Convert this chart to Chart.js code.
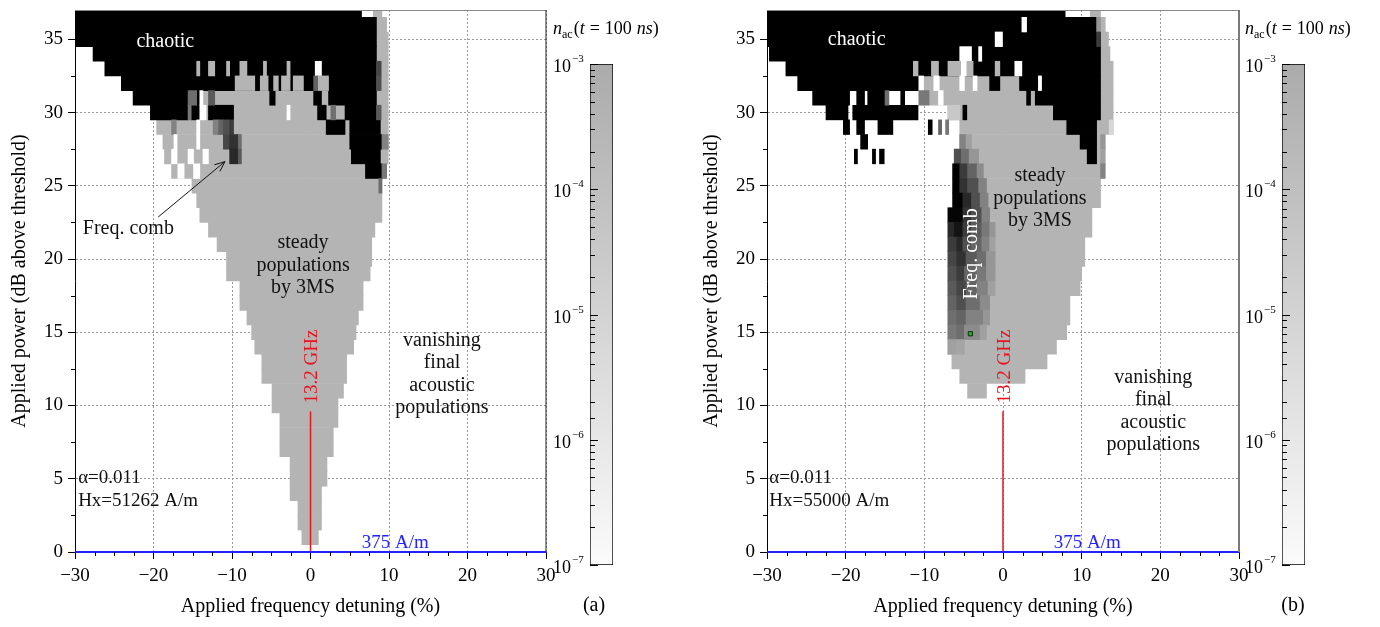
<!DOCTYPE html>
<html>
<head>
<meta charset="utf-8">
<title>Acoustic population maps</title>
<script src="https://cdn.jsdelivr.net/npm/chart.js@4.4.1/dist/chart.umd.min.js"></script>
<style>
  html, body { margin: 0; padding: 0; background: #fff; }
  #wrap { position: relative; width: 1380px; height: 627px; overflow: hidden; }
  .box { position: absolute; top: 0; height: 627px; }
  .box canvas { display: block; }
</style>
</head>
<body>
<div id="wrap">
  <div class="box" style="left:0;width:560px"><canvas id="mapA" width="560" height="627"></canvas></div>
  <div class="box" style="left:548px;width:140px"><canvas id="barA" width="140" height="627"></canvas></div>
  <div class="box" style="left:692px;width:560px"><canvas id="mapB" width="560" height="627"></canvas></div>
  <div class="box" style="left:1240px;width:140px"><canvas id="barB" width="140" height="627"></canvas></div>
</div>
<script>
// ---- data (rows are dB above threshold, segments are detuning % ranges) ----
const detuningRange = [-30, 30];
const powerRange = [0, 37];
const thresholdLevel = 0;
const carrierLine = { detuning: 0, top: 9.6 };
const colorbarRange = [1e-7, 1e-3];

// (a) Hx = 51262 A/m : [row, from, to]
const aSteady = [
  [1, -1.1, 1.0], [2, -1.6, 1.4], [3, -1.6, 1.4], [4, -2.6, 1.4], [5, -2.6, 2.1],
  [6, -2.6, 2.1], [7, -3.9, 2.9], [8, -3.9, 2.9], [9, -3.9, 3.5], [10, -4.9, 3.5],
  [11, -4.9, 4.2], [12, -6.2, 4.6], [13, -6.2, 4.6], [14, -7.1, 5.5], [15, -7.5, 5.8],
  [16, -8.1, 6.1], [17, -9.0, 6.7], [18, -9.0, 6.7], [19, -10.7, 7.6], [20, -10.7, 7.8],
  [21, -11.9, 7.8], [22, -13.0, 8.2], [23, -14.1, 9.1], [24, -14.5, 9.1], [25, -15.1, 9.1],
  [26, -17.7, 9.7], [27, -18.6, 9.9], [28, -18.8, 9.9], [29, -19.6, 9.9], [30, -15.6, 9.9],
  [31, -15.6, 9.9], [32, -15.6, 9.9], [33, -15.6, 9.9], [34, -15.6, 9.9], [35, -15.6, 9.9],
  [36, -15.6, 9.7], [37, 8.0, 9.1]
];
const aChaotic = [
  [37, -30, 6.5], [36, -30, 8.4], [35, -30, 8.4], [34, -27.7, 8.4], [33, -26.2, 8.4],
  [32, -24.1, 8.4],
  [31, -22.6, -15.6], [31, -14.5, -14.1], [31, -5.2, -4.5], [31, 0.4, 1.4], [31, 2.3, 8.4],
  [30, -20.4, -15.6], [30, -15.2, -14.1], [30, -13.0, -9.8], [30, 0.9, 2.0], [30, 4.4, 8.4],
  [29, 2.0, 4.4], [29, 5.0, 8.9],
  [28, 5.0, 9.1], [27, 5.2, 8.9], [26, 7.0, 9.1]
];
// [row, from, to, grey level]  (255 = empty, 180 = steady, darker = comb)
const aCells = [
  [33, -14.5, -14.1, 180], [33, -13.0, -12.2, 180], [33, -10.7, -10.3, 180], [33, -9.0, -8.1, 180],
  [33, -6.0, -5.6, 180], [33, -3.0, -2.6, 180], [33, 0.6, 1.4, 255], [33, 8.4, 9.0, 70],
  [32, -9.6, -7.1, 180], [32, -6.4, -5.4, 180], [32, -4.7, -4.1, 180], [32, -3.7, -2.6, 180],
  [32, -2.2, -0.9, 180], [32, 0.4, 1.0, 100], [32, 1.0, 2.3, 180], [32, 8.4, 9.0, 80],
  [31, -15.6, -14.5, 110], [31, -14.1, -13.7, 255], [31, -13.0, -12.2, 90],
  [30, -15.6, -15.2, 120], [30, -14.1, -13.3, 255], [30, -3.0, -2.6, 255], [30, 2.6, 3.2, 110], [30, 8.4, 9.0, 90],
  [29, -17.7, -17.1, 130], [29, -14.5, -14.1, 255],
  [29, -12.4, -11.7, 130], [29, -11.7, -11.1, 100], [29, -11.1, -10.3, 80], [29, -10.3, -9.8, 60],
  [28, -17.4, -17.0, 255], [28, -14.5, -14.1, 255],
  [28, -11.1, -10.3, 70], [28, -10.3, -9.2, 50], [28, -9.2, -8.8, 110], [28, 9.1, 9.9, 130],
  [27, -17.7, -17.0, 255], [27, -15.6, -14.9, 255], [27, -13.7, -13.0, 255],
  [27, -10.3, -9.2, 40], [27, -9.2, -8.8, 90],
  [26, -16.9, -16.1, 255], [26, -14.9, -14.1, 255], [26, 9.1, 9.7, 120],
  [25, 8.7, 9.1, 110]
];

// (b) Hx = 55000 A/m
const bSteady = [
  [11, -4.5, -2.1], [12, -5.5, 2.8], [13, -6.5, 5.6], [14, -7.0, 6.8], [15, -7.0, 8.1],
  [16, -7.0, 8.5], [17, -7.0, 8.5], [18, -7.0, 9.8], [19, -7.0, 10.0], [20, -7.0, 10.4],
  [21, -7.0, 10.4], [22, -7.0, 11.3], [23, -7.0, 11.3], [24, -6.4, 12.4], [25, -6.4, 12.4],
  [26, -6.4, 12.4], [27, -6.2, 12.4], [28, -5.5, 12.4], [29, -5.5, 14.0], [30, -7.0, 14.0],
  [31, -9.4, 14.0], [32, -10.1, 14.0], [33, -11.4, 14.0], [34, -6.0, 13.6], [35, -6.0, 13.4],
  [36, -6.0, 13.0], [37, 11.1, 12.4]
];
const bChaotic = [
  [37, -30, 7.9], [36, -30, 11.9], [35, -30, 12.4], [34, -29.7, 12.4], [33, -27.6, 12.4],
  [32, -26.1, -10.7], [32, -1.7, -0.4], [32, 2.1, 4.5], [32, 4.9, 12.4],
  [31, -24.2, -19.5], [31, -18.6, -17.6], [31, -17.2, -15.0], [31, -13.0, -12.5], [31, 3.0, 3.5], [31, 4.1, 12.4],
  [30, -22.5, -19.7], [30, -19.1, -10.8], [30, -5.1, -4.6], [30, 6.4, 12.4],
  [29, -20.3, -19.5], [29, -18.6, -17.6], [29, -15.9, -14.0], [29, -9.5, -9.0], [29, 8.1, 11.9],
  [28, -18.1, -17.2], [28, 9.8, 11.9],
  [27, -18.9, -18.5], [27, -16.6, -16.2], [27, -15.7, -15.1], [27, 10.7, 11.9]
];
const bCells = [
  [36, 2.4, 3.0, 255], [36, 11.9, 12.4, 150],
  [35, -1.0, 0.0, 255], [35, 11.9, 12.4, 60],
  [34, -5.5, -4.0, 255], [34, -3.1, -2.7, 255],
  [33, -11.4, -10.8, 180], [33, -9.1, -8.2, 180], [33, -7.0, -5.3, 180], [33, -5.3, -4.6, 255],
  [33, -4.6, -3.8, 180], [33, -1.0, -0.4, 180], [33, 1.5, 2.4, 255],
  [32, -10.7, -10.1, 255], [32, -8.8, -8.1, 255], [32, -5.5, -4.9, 255], [32, -3.8, -3.3, 255], [32, 4.5, 4.9, 255],
  [31, -15.0, -14.5, 110], [31, -10.7, -9.4, 120], [31, -8.2, -7.6, 255],
  [30, -7.0, -5.5, 200],
  [29, -8.2, -7.8, 100], [29, -7.3, -6.9, 120], [29, 13.5, 14.0, 215],
  [28, 12.4, 13.0, 150], [27, 12.4, 13.0, 160], [26, 12.4, 13.0, 130],
  // frequency comb
  [28, -5.5, -4.7, 130], [28, -4.7, -4.0, 160],
  [27, -6.2, -5.3, 80], [27, -5.3, -4.3, 110], [27, -4.3, -3.1, 150],
  [26, -6.4, -5.5, 0], [26, -5.5, -4.5, 60], [26, -4.5, -3.3, 100], [26, -3.3, -2.5, 140],
  [25, -6.4, -5.5, 0], [25, -5.5, -4.5, 50], [25, -4.5, -3.1, 80], [25, -3.1, -2.1, 130],
  [24, -6.4, -5.1, 0], [24, -5.1, -4.0, 40], [24, -4.0, -2.9, 80], [24, -2.9, -1.9, 130],
  [23, -7.0, -5.1, 5], [23, -5.1, -4.0, 50], [23, -4.0, -2.7, 80], [23, -2.7, -1.7, 130],
  [22, -7.0, -6.2, 40], [22, -6.2, -5.1, 20], [22, -5.1, -4.0, 60], [22, -4.0, -2.7, 90], [22, -2.7, -1.7, 120], [22, -1.7, -1.0, 150],
  [21, -7.0, -5.9, 60], [21, -5.9, -5.1, 40], [21, -5.1, -4.0, 80], [21, -4.0, -2.7, 100], [21, -2.7, -1.7, 130], [21, -1.7, -1.0, 160],
  [20, -7.0, -5.9, 70], [20, -5.9, -4.7, 50], [20, -4.7, -3.3, 90], [20, -3.3, -2.1, 110], [20, -2.1, -1.0, 150],
  [19, -7.0, -5.9, 80], [19, -5.9, -4.9, 60], [19, -4.9, -3.3, 100], [19, -3.3, -2.1, 120], [19, -2.1, -1.0, 150],
  [18, -7.0, -5.9, 90], [18, -5.9, -4.7, 70], [18, -4.7, -3.3, 100], [18, -3.3, -1.9, 130], [18, -1.9, -1.0, 160],
  [17, -7.0, -5.9, 100], [17, -5.9, -4.7, 80], [17, -4.7, -2.9, 110], [17, -2.9, -1.7, 140],
  [16, -7.0, -5.9, 110], [16, -5.9, -4.7, 100], [16, -4.7, -2.5, 130], [16, -2.5, -1.7, 150],
  [15, -7.0, -5.9, 120], [15, -5.9, -4.9, 110], [15, -4.9, -2.9, 140], [15, -2.9, -2.1, 160],
  [14, -7.0, -5.9, 160], [14, -5.9, -4.9, 165]
];
const bMarker = { x: -4.15, y: 14.9 };

// ---- drawing ----
const FONT = '"Liberation Serif", "Times New Roman", serif';
const steadyGrey = 'rgb(180,180,180)';

let fmt = (v) => v < 0 ? '\u2212' + Math.abs(v) : String(v);

// keep ticks on the 2.5 grid only
let onGrid = (s) => { s.ticks = s.ticks.filter((t) => Math.abs(t.value / 2.5 - Math.round(t.value / 2.5)) < 1e-6); };

let heat = (rows, color, order) => {
    return {
        type: 'bar',
        indexAxis: 'y',
        order: order,
        grouped: false,
        categoryPercentage: 1,
        barPercentage: 1,
        borderWidth: 0,
        data: rows.map(([y, l, r, g]) => ({y: y, x: [l, r], g: g})),
        backgroundColor: color,
    };
};

let cellColor = (ctx) => {
    let g = ctx.raw ? ctx.raw.g : 180;
    return `rgb(${g},${g},${g})`;
};

// text labels, arrow, short minor ticks and the top/right frame of a map
let notesPlugin = (n) => ({
    id: 'notes',
    afterDraw(chart) {
        const {ctx, chartArea: a, scales: {x, y}} = chart;
        ctx.save();
        ctx.strokeStyle = '#8a8a8a';
        ctx.lineWidth = 1;
        ctx.beginPath();
        ctx.moveTo(a.left, a.top + 0.5);
        ctx.lineTo(a.right, a.top + 0.5);
        ctx.stroke();
        ctx.strokeStyle = n.frameColor;
        ctx.lineWidth = n.frameWidth;
        ctx.beginPath();
        ctx.moveTo(a.right, a.top);
        ctx.lineTo(a.right, a.bottom);
        ctx.stroke();

        // minor ticks (major ones come from the scales)
        ctx.strokeStyle = '#000';
        ctx.lineWidth = 1;
        ctx.beginPath();
        x.ticks.filter((t) => t.value % 10 !== 0).forEach((t) => {
            const px = Math.round(x.getPixelForValue(t.value)) + 0.5;
            ctx.moveTo(px, a.bottom);
            ctx.lineTo(px, a.bottom + 4);
        });
        y.ticks.filter((t) => t.value % 5 !== 0).forEach((t) => {
            const py = Math.round(y.getPixelForValue(t.value)) + 0.5;
            ctx.moveTo(a.left, py);
            ctx.lineTo(a.left - 4, py);
        });
        ctx.stroke();

        n.texts.forEach((t) => {
            ctx.font = `${t.size || 20}px ${FONT}`;
            ctx.fillStyle = t.color || '#111';
            ctx.textAlign = t.align || 'center';
            ctx.textBaseline = 'middle';
            ctx.save();
            ctx.translate(x.getPixelForValue(t.x), y.getPixelForValue(t.y));
            if (t.rotate) ctx.rotate(-Math.PI / 2);
            t.text.forEach((line, i) => ctx.fillText(line, 0, i * 22.5));
            ctx.restore();
        });

        if (n.arrow) {
            const x1 = x.getPixelForValue(n.arrow.from[0]), y1 = y.getPixelForValue(n.arrow.from[1]);
            const x2 = x.getPixelForValue(n.arrow.to[0]), y2 = y.getPixelForValue(n.arrow.to[1]);
            const ang = Math.atan2(y2 - y1, x2 - x1);
            ctx.strokeStyle = '#111';
            ctx.lineWidth = 1;
            ctx.beginPath();
            ctx.moveTo(x1, y1);
            ctx.lineTo(x2, y2);
            ctx.moveTo(x2 - 11 * Math.cos(ang - 0.4), y2 - 11 * Math.sin(ang - 0.4));
            ctx.lineTo(x2, y2);
            ctx.lineTo(x2 - 11 * Math.cos(ang + 0.4), y2 - 11 * Math.sin(ang + 0.4));
            ctx.stroke();
        }
        ctx.restore();
    }
});

let drawMap = (id, steady, chaotic, cells, marker, notes) => {
    let datasets = [
        {
            type: 'line',
            data: [{x: detuningRange[0], y: thresholdLevel}, {x: detuningRange[1], y: thresholdLevel}],
            borderColor: '#2323ff',
            borderWidth: 2,
            pointRadius: 0,
            clip: false,
            order: 0,
        },
        {
            type: 'line',
            data: [{x: carrierLine.detuning, y: thresholdLevel}, {x: carrierLine.detuning, y: carrierLine.top}],
            borderColor: '#e31a1c',
            borderWidth: 1.5,
            pointRadius: 0,
            order: 0,
        },
        heat(cells, cellColor, 1),
        heat(chaotic, '#000', 2),
        heat(steady, steadyGrey, 3),
    ];
    if (marker) {
        datasets.push({
            type: 'scatter',
            data: [marker],
            pointStyle: 'rect',
            pointRadius: 3,
            backgroundColor: '#2aa52a',
            borderColor: '#0c360c',
            borderWidth: 1,
            order: 0,
        });
    }
    return new Chart(document.getElementById(id), {
        type: 'scatter',
        data: {datasets: datasets},
        options: {
            responsive: false,
            animation: false,
            events: [],
            layout: {padding: {left: 0, right: notes.padRight, top: 10, bottom: 0}},
            plugins: {legend: {display: false}, tooltip: {enabled: false}},
            scales: {
                x: {
                    type: 'linear',
                    min: detuningRange[0],
                    max: detuningRange[1],
                    bounds: 'data',
                    offset: false,
                    z: 1,
                    afterBuildTicks: onGrid,
                    ticks: {
                        stepSize: 2.5,
                        autoSkip: false,
                        includeBounds: false,
                        maxRotation: 0,
                        padding: 6,
                        color: '#000',
                        font: {family: FONT, size: 19},
                        callback: (v) => (v % 10 === 0 ? fmt(v) : ''),
                    },
                    grid: {
                        offset: false,
                        color: (c) => (c.tick && c.tick.value % 10 === 0 ? '#9a9a9a' : 'rgba(0,0,0,0)'),
                        tickColor: (c) => (c.tick && c.tick.value % 10 === 0 ? '#000' : 'rgba(0,0,0,0)'),
                        tickLength: 7,
                    },
                    border: {display: true, color: '#2323ff', width: 1, dash: [2, 2]},
                    title: {
                        display: true,
                        text: 'Applied frequency detuning (%)',
                        color: '#000',
                        font: {family: FONT, size: 20},
                        padding: {top: 0, bottom: 8},
                    },
                    afterFit: (s) => { s.height = 75; s.paddingLeft = 0; s.paddingRight = 0; },
                },
                y: {
                    type: 'linear',
                    min: powerRange[0],
                    max: powerRange[1],
                    bounds: 'data',
                    offset: false,
                    z: 1,
                    afterBuildTicks: onGrid,
                    ticks: {
                        stepSize: 2.5,
                        autoSkip: false,
                        includeBounds: false,
                        padding: 5,
                        color: '#000',
                        font: {family: FONT, size: 19},
                        callback: (v) => (v % 5 === 0 ? fmt(v) : ''),
                    },
                    grid: {
                        offset: false,
                        color: (c) => (c.tick && c.tick.value % 5 === 0 && c.tick.value > 0 ? '#9a9a9a' : 'rgba(0,0,0,0)'),
                        tickColor: (c) => (c.tick && c.tick.value % 5 === 0 ? '#000' : 'rgba(0,0,0,0)'),
                        tickLength: 7,
                    },
                    border: {display: true, color: '#000', width: 1, dash: [2, 2]},
                    title: {
                        display: true,
                        text: 'Applied power (dB above threshold)',
                        color: '#000',
                        font: {family: FONT, size: 20},
                        padding: {top: 8, bottom: 0},
                    },
                    afterFit: (s) => { s.width = 75; s.paddingTop = 0; s.paddingBottom = 0; },
                },
            },
        },
        plugins: [notesPlugin(notes)],
    });
};

// colour bar: gradient bar, inner ticks, 10^n labels, title and panel tag
let colorbarDecor = (tag, tagX) => ({
    id: 'cbDecor',
    afterDraw(chart) {
        const {ctx, chartArea: a, scales: {y}} = chart;
        ctx.save();
        ctx.strokeStyle = '#000';
        ctx.fillStyle = '#000';
        ctx.lineWidth = 1;
        y.ticks.forEach((t) => {
            const py = Math.round(y.getPixelForValue(t.value)) + 0.5;
            const lg = Math.log10(t.value);
            const major = Math.abs(lg - Math.round(lg)) < 1e-6;
            ctx.beginPath();
            ctx.moveTo(a.left, py);
            ctx.lineTo(a.left + (major ? 8 : 5), py);
            ctx.stroke();
            if (major) {
                ctx.textAlign = 'left';
                ctx.textBaseline = 'middle';
                ctx.font = `18px ${FONT}`;
                ctx.fillText('10', 5, py + 3);
                const w = ctx.measureText('10').width;
                ctx.font = `11px ${FONT}`;
                ctx.fillText('\u2212' + Math.abs(Math.round(lg)), 5 + w + 1, py - 5);
            }
        });

        // n_ac(t = 100 ns)
        const parts = [
            ['n', 'italic 18px', 0, 0], ['ac', '12px', 4, 1], ['(', '18px', 0, 0], ['t', 'italic 18px', 0, 5],
            ['=', '18px', 0, 5], ['100', '18px', 0, 5], ['ns', 'italic 18px', 0, 0], [')', '18px', 0, 0]
        ];
        let px = 5;
        ctx.textAlign = 'left';
        ctx.textBaseline = 'alphabetic';
        parts.forEach(([s, f, dy, gap]) => {
            ctx.font = `${f} ${FONT}`;
            ctx.fillText(s, px, 34 + dy);
            px += ctx.measureText(s).width + gap;
        });

        ctx.font = `20px ${FONT}`;
        ctx.textAlign = 'center';
        ctx.textBaseline = 'middle';
        ctx.fillText(tag, tagX, 606);
        ctx.restore();
    }
});

let drawColorbar = (id, tag, tagX) => {
    return new Chart(document.getElementById(id), {
        type: 'bar',
        data: {
            labels: ['n'],
            datasets: [{
                data: [colorbarRange],
                backgroundColor: (ctx) => {
                    const area = ctx.chart.chartArea;
                    if (!area) return '#ccc';
                    const g = ctx.chart.ctx.createLinearGradient(0, area.bottom, 0, area.top);
                    g.addColorStop(0, '#fbfbfb');
                    g.addColorStop(1, '#ababab');
                    return g;
                },
                borderColor: '#000',
                borderWidth: 1,
                borderSkipped: false,
                categoryPercentage: 1,
                barPercentage: 1,
            }]
        },
        options: {
            responsive: false,
            animation: false,
            events: [],
            layout: {padding: {left: 42, right: 75, top: 64, bottom: 62}},
            plugins: {legend: {display: false}, tooltip: {enabled: false}},
            scales: {
                x: {display: false},
                y: {
                    type: 'logarithmic',
                    min: colorbarRange[0],
                    max: colorbarRange[1],
                    ticks: {display: false},
                    grid: {display: false, drawTicks: false},
                    border: {display: false},
                    afterFit: (s) => { s.width = 0; },
                }
            }
        },
        plugins: [colorbarDecor(tag, tagX)],
    });
};

drawMap('mapA', aSteady, aChaotic, aCells, null, {
    padRight: 14,
    frameColor: '#222',
    frameWidth: 1,
    texts: [
        {text: ['chaotic'], x: -18.5, y: 34.85, color: '#fff'},
        {text: ['Freq. comb'], x: -23.2, y: 22.1},
        {text: ['steady', 'populations', 'by 3MS'], x: -0.95, y: 21.1},
        {text: ['vanishing', 'final', 'acoustic', 'populations'], x: 16.75, y: 14.43},
        {text: ['13.2 GHz'], x: 0.2, y: 12.66, color: '#e8141c', rotate: true, size: 19},
        {text: ['\u03b1=0.011', 'Hx=51262 A/m'], x: -29.6, y: 5.04, align: 'left', size: 19},
        {text: ['375 A/m'], x: 10.8, y: 0.61, color: '#2323ff', size: 19},
    ],
    arrow: {from: [-19.4, 22.87], to: [-10.9, 26.65]},
});

drawMap('mapB', bSteady, bChaotic, bCells, bMarker, {
    padRight: 13,
    frameColor: '#7a7a7a',
    frameWidth: 2,
    texts: [
        {text: ['chaotic'], x: -18.6, y: 35.0, color: '#fff'},
        {text: ['steady', 'populations', 'by 3MS'], x: 4.7, y: 25.66},
        {text: ['Freq. comb'], x: -3.95, y: 20.35, color: '#fff', rotate: true},
        {text: ['vanishing', 'final', 'acoustic', 'populations'], x: 19.1, y: 11.9},
        {text: ['13.2 GHz'], x: 0.2, y: 12.66, color: '#e8141c', rotate: true, size: 19},
        {text: ['\u03b1=0.011', 'Hx=55000 A/m'], x: -29.7, y: 5.04, align: 'left', size: 19},
        {text: ['375 A/m'], x: 10.7, y: 0.61, color: '#2323ff', size: 19},
    ],
    arrow: null,
});

drawColorbar('barA', '(a)', 46);
drawColorbar('barB', '(b)', 53);
</script>
</body>
</html>
